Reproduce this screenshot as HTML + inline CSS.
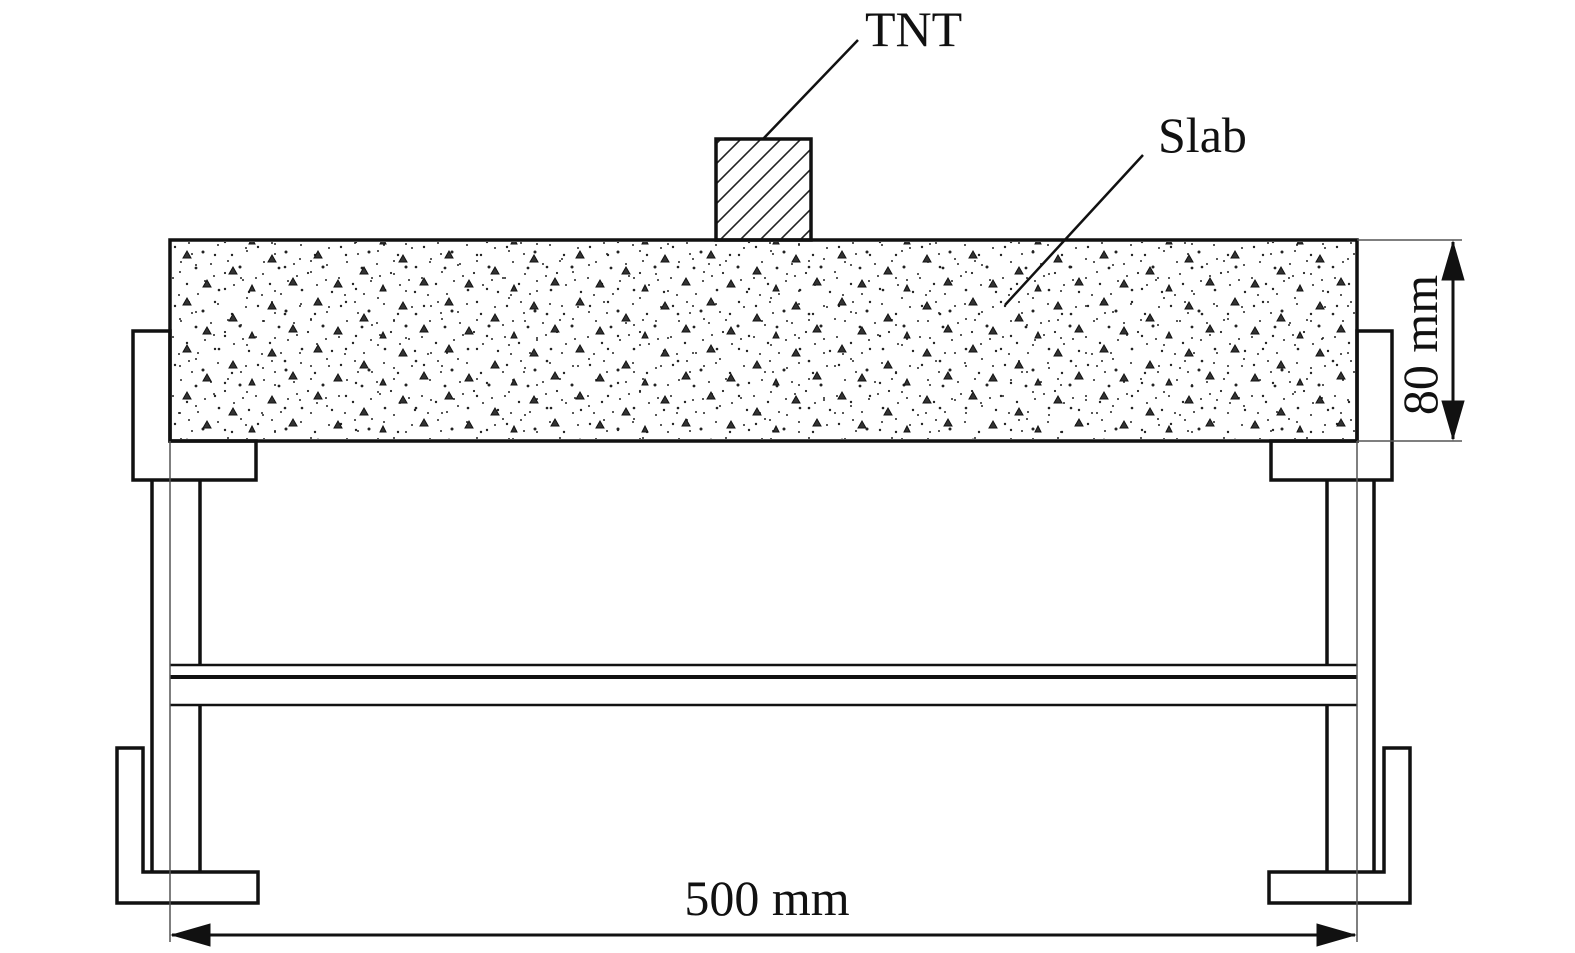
<!DOCTYPE html>
<html><head><meta charset="utf-8"><style>html,body{margin:0;padding:0;background:#fff;overflow:hidden}svg{display:block}</style></head>
<body>
<svg width="1575" height="953" viewBox="0 0 1575 953" xmlns="http://www.w3.org/2000/svg" font-family="Liberation Serif, serif">
<defs>
<pattern id="h" patternUnits="userSpaceOnUse" width="20" height="20">
<path d="M-5,5 L5,-5 M0,20 L20,0 M15,25 L25,15" stroke="#222" stroke-width="1.6"/>
</pattern>
<pattern id="pa" patternUnits="userSpaceOnUse" x="170" y="240" width="83" height="59">
<g fill="#222">
<circle cx="5" cy="7" r="1.2"/><circle cx="19" cy="3" r="1"/><circle cx="33" cy="12" r="1.5"/><circle cx="48" cy="5" r="1"/>
<circle cx="62" cy="15" r="1.2"/><circle cx="76" cy="8" r="1"/><circle cx="11" cy="22" r="1"/><circle cx="26" cy="28" r="1.4"/>
<circle cx="41" cy="24" r="1"/><circle cx="55" cy="33" r="1.1"/><circle cx="70" cy="27" r="1.5"/><circle cx="3" cy="38" r="1"/>
<circle cx="17" cy="44" r="1.2"/><circle cx="35" cy="41" r="1"/><circle cx="49" cy="50" r="1.3"/><circle cx="64" cy="45" r="1"/>
<circle cx="79" cy="52" r="1.2"/><circle cx="9" cy="55" r="1"/><circle cx="28" cy="54" r="1"/><circle cx="44" cy="36" r="1"/>
<circle cx="58" cy="21" r="1"/><circle cx="73" cy="40" r="1"/><circle cx="22" cy="14" r="1"/>
</g>
</pattern>
<pattern id="pb" patternUnits="userSpaceOnUse" x="175" y="247" width="131" height="47">
<g fill="#333" stroke="#111" stroke-width="1">
<path d="M12,4 l4,7 l-8,0z"/><path d="M58,20 l4,7 l-8,0z"/><path d="M97,8 l4,7 l-8,0z"/><path d="M32,33 l4,7 l-8,0z"/><path d="M118,31 l4,7 l-8,0z"/><path d="M77,38 l3,6 l-6,0z"/>
</g>
<g fill="#222">
<circle cx="40" cy="8" r="1.2"/><circle cx="72" cy="4" r="1"/><circle cx="110" cy="20" r="1.3"/><circle cx="5" cy="25" r="1"/>
<circle cx="88" cy="27" r="1"/><circle cx="50" cy="42" r="1.2"/><circle cx="125" cy="12" r="1"/><circle cx="21" cy="18" r="1"/>
<circle cx="100" cy="44" r="1"/><circle cx="66" cy="31" r="1"/>
</g>
</pattern>
</defs>
<rect x="172" y="242" width="1183" height="197" fill="url(#pa)"/>
<rect x="172" y="242" width="1183" height="197" fill="url(#pb)"/>
<g fill="none" stroke="#111" stroke-width="3.5">
<rect x="716" y="139" width="95" height="101" fill="url(#h)"/>
<rect x="170" y="240" width="1187" height="201"/>
<polygon points="133,331 170,331 170,441 256,441 256,480 133,480"/>
<polygon points="1392,331 1357,331 1357,441 1271,441 1271,480 1392,480"/>
<line x1="152" y1="480" x2="152" y2="872"/>
<line x1="200" y1="480" x2="200" y2="665"/>
<line x1="200" y1="705" x2="200" y2="872"/>
<line x1="1374" y1="480" x2="1374" y2="872"/>
<line x1="1327" y1="480" x2="1327" y2="665"/>
<line x1="1327" y1="705" x2="1327" y2="872"/>
<line x1="170" y1="665" x2="1357" y2="665" stroke-width="2.5"/>
<line x1="170" y1="677" x2="1357" y2="677" stroke-width="4"/>
<line x1="170" y1="705" x2="1357" y2="705" stroke-width="2.5"/>
<polygon points="117,748 143,748 143,872 258,872 258,903 117,903"/>
<polygon points="1410,748 1384,748 1384,872 1269,872 1269,903 1410,903"/>
</g>
<g stroke="#555" stroke-width="1.5">
<line x1="170" y1="441" x2="170" y2="942"/>
<line x1="1357" y1="441" x2="1357" y2="942"/>
<line x1="1357" y1="240" x2="1462" y2="240"/>
<line x1="1357" y1="441" x2="1462" y2="441"/>
</g>
<g stroke="#111" stroke-width="3">
<line x1="1453" y1="242" x2="1453" y2="439"/>
<line x1="172" y1="935" x2="1355" y2="935"/>
<path d="M1453,242 L1442,280 L1464,280z M1453,439 L1442,401 L1464,401z M172,935 L210,924 L210,946z M1355,935 L1317,924 L1317,946z" fill="#111" stroke-width="1"/>
<line x1="763" y1="139" x2="858" y2="40" stroke-width="2.5"/>
<line x1="1005" y1="305" x2="1143" y2="155" stroke-width="2.5"/>
</g>
<g fill="#111" font-size="50">
<text x="865" y="46">TNT</text>
<text x="1158" y="152">Slab</text>
<text x="767" y="915" text-anchor="middle">500 mm</text>
<text transform="translate(1437,345) rotate(-90)" text-anchor="middle">80 mm</text>
</g>
</svg>
</body></html>
